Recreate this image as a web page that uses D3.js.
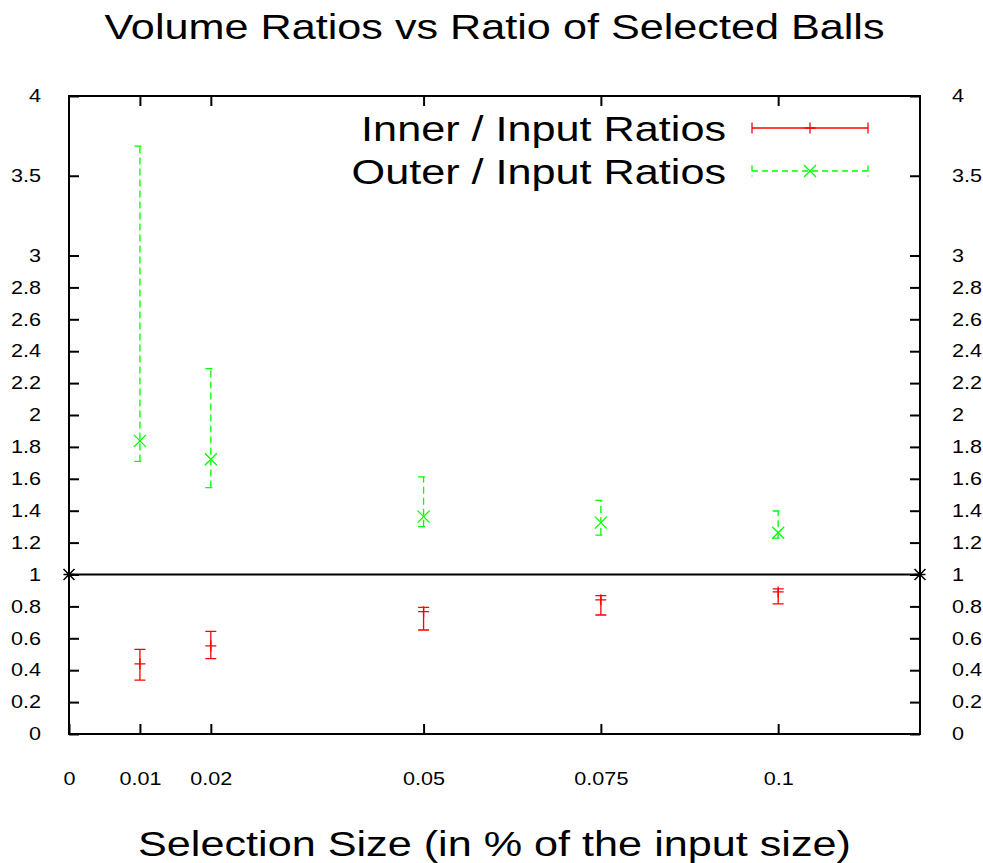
<!DOCTYPE html>
<html>
	<head>
		<meta charset="UTF-8" />
		<title>Volume Ratios vs Ratio of Selected Balls</title>
		<script src="https://cdn.jsdelivr.net/npm/d3@7"></script>
		<style>
			body {
				margin: 0;
				background: #fff;
			}
			svg {
				display: block;
				font-family: "Liberation Sans", Arial, sans-serif;
			}
		</style>
	</head>
	<body>
		<svg width="983" height="863"></svg>

		<script>
			// selection sizes (x) and the two ratio series
			const sizes = [0.01, 0.02, 0.05, 0.075, 0.1];

			const innerMean = [0.44, 0.553, 0.767, 0.841, 0.891];
			const innerLow = [0.338, 0.472, 0.652, 0.746, 0.816];
			const innerHigh = [0.53, 0.643, 0.794, 0.868, 0.91];

			const outerMean = [1.838, 1.723, 1.363, 1.325, 1.262];
			const outerLow = [1.709, 1.545, 1.3, 1.247, 1.228];
			const outerHigh = [3.686, 2.291, 1.612, 1.465, 1.398];

			// reference line y = 1
			const refX = [0, 0.12];
			const refY = 1;

			const xTicks = [0, 0.01, 0.02, 0.05, 0.075, 0.1];
			const xTickLabels = ["0", "0.01", "0.02", "0.05", "0.075", "0.1"];
			const yTicks = [0, 0.2, 0.4, 0.6, 0.8, 1, 1.2, 1.4, 1.6, 1.8, 2, 2.2, 2.4, 2.6, 2.8, 3, 3.5, 4];
			const yTickLabels = ["0", "0.2", "0.4", "0.6", "0.8", "1", "1.2", "1.4", "1.6", "1.8", "2", "2.2", "2.4", "2.6", "2.8", "3", "3.5", "4"];

			const seriesNames = ["Inner / Input Ratios", "Outer / Input Ratios"];

			const svg = d3.select("svg");
			const SX = 1.2; // text in the original is a bit wider than Arial

			const pLeft = 69,
				pRight = 920,
				pTop = 96,
				pBottom = 734;

			const x = d3.scaleLinear().domain([0, 0.12]).range([pLeft, pRight]);
			const y = d3.scaleLinear().domain([0, 4]).range([pBottom, pTop]);

			// axes (ticks point inward, like gnuplot)
			const yFmt = (d) => yTickLabels[yTicks.indexOf(d)];
			const xFmt = (d) => xTickLabels[xTicks.indexOf(d)];

			function styleAxis(g) {
				g.select(".domain").remove();
				g.selectAll("line").attr("stroke", "#000").attr("stroke-width", 2);
				g.selectAll("text").attr("fill", "#000").style("font-size", "18px");
			}

			svg
				.append("g")
				.attr("transform", `translate(${pLeft},0)`)
				.call(d3.axisLeft(y).tickValues(yTicks).tickFormat(yFmt).tickSizeInner(-10).tickSizeOuter(0).tickPadding(28))
				.call(styleAxis)
				.selectAll("text")
				.attr("x", -28 / SX)
				.attr("transform", `scale(${SX},1)`);

			svg
				.append("g")
				.attr("transform", `translate(${pRight},0)`)
				.call(d3.axisRight(y).tickValues(yTicks).tickFormat(yFmt).tickSizeInner(-10).tickSizeOuter(0).tickPadding(32))
				.call(styleAxis)
				.selectAll("text")
				.attr("x", 32 / SX)
				.attr("transform", `scale(${SX},1)`);

			svg
				.append("g")
				.attr("transform", `translate(0,${pBottom})`)
				.call(d3.axisBottom(x).tickValues(xTicks).tickFormat(xFmt).tickSizeInner(-10).tickSizeOuter(0).tickPadding(38))
				.call(styleAxis)
				.selectAll("text")
				.attr("transform", `scale(${SX},1)`);

			svg
				.append("g")
				.attr("transform", `translate(0,${pTop})`)
				.call(d3.axisTop(x).tickValues(xTicks.slice(1)).tickFormat("").tickSizeInner(-10).tickSizeOuter(0))
				.call(styleAxis);

			// border
			svg
				.append("rect")
				.attr("x", pLeft)
				.attr("y", pTop)
				.attr("width", pRight - pLeft)
				.attr("height", pBottom - pTop)
				.attr("fill", "none")
				.attr("stroke", "#000")
				.attr("stroke-width", 2);

			// reference line with star points at both ends
			svg
				.append("path")
				.datum(refX)
				.attr("d", d3.line().x((d) => x(d)).y(() => y(refY)))
				.attr("fill", "none")
				.attr("stroke", "#000")
				.attr("stroke-width", 2);

			function star(g, cx, cy, s, color) {
				g.append("path")
					.attr("d", `M${cx - s},${cy}H${cx + s}M${cx},${cy - s}V${cy + s}M${cx - s},${cy - s}L${cx + s},${cy + s}M${cx - s},${cy + s}L${cx + s},${cy - s}`)
					.attr("stroke", color)
					.attr("stroke-width", 1.5)
					.attr("fill", "none");
			}
			function plus(g, cx, cy, s, color, w) {
				g.append("path")
					.attr("d", `M${cx - s},${cy}H${cx + s}M${cx},${cy - s}V${cy + s}`)
					.attr("stroke", color)
					.attr("stroke-width", w)
					.attr("fill", "none");
			}
			function cross(g, cx, cy, s, color, w) {
				g.append("path")
					.attr("d", `M${cx - s},${cy - s}L${cx + s},${cy + s}M${cx - s},${cy + s}L${cx + s},${cy - s}`)
					.attr("stroke", color)
					.attr("stroke-width", w)
					.attr("fill", "none");
			}

			refX.forEach((d) => star(svg, x(d), y(refY), 5.5, "#000"));

			// error bars
			const red = "#ff0000",
				green = "#00ff00";
			const cap = 5.5;

			const innerG = svg.append("g");
			sizes.forEach((s, i) => {
				const cx = x(s);
				innerG
					.append("path")
					.attr("d", `M${cx},${y(innerLow[i])}V${y(innerHigh[i])}M${cx - cap},${y(innerLow[i])}H${cx + cap}M${cx - cap},${y(innerHigh[i])}H${cx + cap}`)
					.attr("stroke", red)
					.attr("stroke-width", 1.3)
					.attr("fill", "none");
				plus(innerG, cx, y(innerMean[i]), 5.5, red, 1.3);
			});

			const outerG = svg.append("g");
			sizes.forEach((s, i) => {
				const cx = x(s);
				outerG
					.append("path")
					.attr("d", `M${cx},${y(outerLow[i])}V${y(outerHigh[i])}M${cx - cap},${y(outerLow[i])}H${cx + cap}M${cx - cap},${y(outerHigh[i])}H${cx + cap}`)
					.attr("stroke", green)
					.attr("stroke-width", 1.3)
					.attr("stroke-dasharray", "7,4")
					.attr("fill", "none");
				cross(outerG, cx, y(outerMean[i]), 6, green, 1.3);
			});

			// legend
			const legX0 = 752,
				legX1 = 868,
				legY = [128, 171];
			const legColor = [red, green];
			seriesNames.forEach((name, i) => {
				const ly = legY[i];
				svg
					.append("text")
					.attr("transform", `translate(726,${ly + 13}) scale(${SX},1)`)
					.attr("text-anchor", "end")
					.style("font-size", "36px")
					.text(name);
				const p = svg
					.append("path")
					.attr("d", `M${legX0},${ly}H${legX1}M${legX0},${ly - 5.5}V${ly + 5.5}M${legX1},${ly - 5.5}V${ly + 5.5}`)
					.attr("stroke", legColor[i])
					.attr("stroke-width", 1.3)
					.attr("fill", "none");
				if (i === 1) {
					p.attr("stroke-dasharray", "6,4");
					cross(svg, (legX0 + legX1) / 2, ly, 6, green, 1.3);
				} else {
					plus(svg, (legX0 + legX1) / 2, ly, 5.5, red, 1.3);
				}
			});

			// title and axis label
			svg
				.append("text")
				.attr("transform", `translate(${(pLeft + pRight) / 2},39) scale(${SX},1)`)
				.attr("text-anchor", "middle")
				.style("font-size", "36px")
				.text("Volume Ratios vs Ratio of Selected Balls");

			svg
				.append("text")
				.attr("transform", `translate(${(pLeft + pRight) / 2},856) scale(${SX},1)`)
				.attr("text-anchor", "middle")
				.style("font-size", "36px")
				.text("Selection Size (in % of the input size)");
		</script>
	</body>
</html>
